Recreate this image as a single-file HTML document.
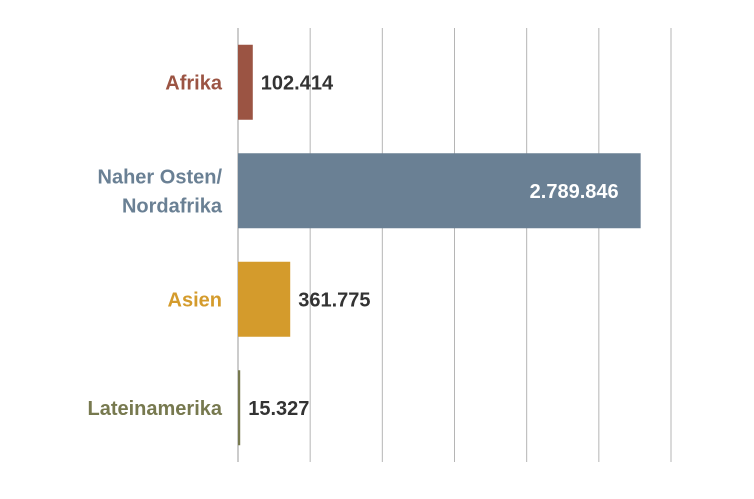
<!DOCTYPE html>
<html><head><meta charset="utf-8"><style>
html,body{margin:0;padding:0;background:#fff;}
svg text{font-family:"Liberation Sans Narrow","Liberation Sans",sans-serif;font-weight:bold;}
</style></head><body>
<svg id="chart" width="754" height="494" xmlns="http://www.w3.org/2000/svg"></svg>
<script>
const categories = ["Afrika", "Naher Osten/\nNordafrika", "Asien", "Lateinamerika"];
const values = [102414, 2789846, 361775, 15327];
const valueLabels = ["102.414", "2.789.846", "361.775", "15.327"];
const colors = ["#9b5443", "#6a8094", "#d49b2c", "#77794f"];
const ticks = [0, 500000, 1000000, 1500000, 2000000, 2500000, 3000000];

const svg = document.getElementById('chart');
const NS = "http://www.w3.org/2000/svg";
const x0 = 238, x1 = 671, yTop = 28, yBot = 462;
const xMax = 3000000;
function xs(v){ return x0 + (v / xMax) * (x1 - x0); }
const bandTop = 28, bandH = 108.5, barH = 75;
function yBand(i){ return bandTop + i * bandH + (bandH - barH) / 2; }
function mk(tag, attrs){ const e = document.createElementNS(NS, tag); for (const k in attrs) e.setAttribute(k, attrs[k]); svg.appendChild(e); return e; }

ticks.forEach((t, i) => {
  const l = mk('line', {x1: xs(t), x2: xs(t), y1: yTop, y2: yBot, stroke: i === 0 ? '#999' : '#b5b5b5', 'stroke-width': 1});
  
  
});

categories.forEach((c, i) => {
  const y = yBand(i);
  const w = xs(values[i]) - x0;
  const r = mk('rect', {x: x0, y: y, width: Math.max(w, 2), height: barH, fill: colors[i]});
  
  
  const lines = c.split('\n');
  const cy = y + barH / 2;
  const t = mk('text', {x: 222, 'text-anchor': 'end', fill: colors[i], 'font-size': 20});
  
  
  lines.forEach((ln, j) => {
    const ts = document.createElementNS(NS, 'tspan');
    ts.setAttribute('x', 222);
    ts.setAttribute('y', cy + 7 + (j - (lines.length - 1) / 2) * 29);
    ts.textContent = ln;
    t.appendChild(ts);
  });
  const inside = w > 150;
  const v = mk('text', {x: inside ? xs(values[i]) - 22 : xs(values[i]) + 8, y: cy + 7, 'text-anchor': inside ? 'end' : 'start', fill: inside ? '#fff' : '#333', 'font-size': 20});
  v.textContent = valueLabels[i];
  
  
});
</script>
</body></html>
